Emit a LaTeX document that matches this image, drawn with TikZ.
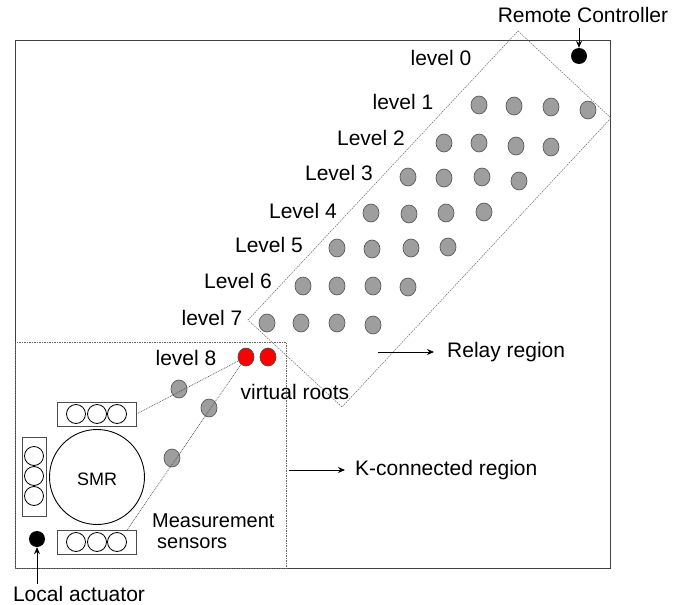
\documentclass[tikz,border=0pt]{standalone}
\usepackage{fontspec}
\setmainfont{Liberation Sans}
\usetikzlibrary{shapes.geometric,arrows.meta,calc}
\begin{document}
\begin{tikzpicture}[x=1pt,y=-1pt,
  every node/.style={font=\fontsize{21}{24}\selectfont, inner sep=0pt},
  relay/.style={ellipse, draw=black!65, fill=black!38, line width=0.7pt, minimum width=16pt, minimum height=18pt},
  vroot/.style={ellipse, draw=black!70, fill=red, line width=0.7pt, minimum width=16pt, minimum height=18pt},
  ctrl/.style={circle, fill=black, minimum size=16pt},
  sensor/.style={circle, draw=black, line width=0.8pt, minimum size=19pt},
  sbox/.style={rectangle, draw=black!70, line width=0.8pt},
  region/.style={draw=black!60, line width=0.5pt, dash pattern=on 1.5pt off 1pt},
  link/.style={draw=black!70, line width=0.7pt, dash pattern=on 0.8pt off 1pt},
  pointer/.style={draw=black, line width=0.8pt, -{Stealth[length=7pt,width=6pt]}}
]
\useasboundingbox (0,0) rectangle (689,605);

% plant boundary
\node[sbox, draw=black!75, line width=0.9pt, minimum width=595pt, minimum height=528pt, anchor=north west] (plant) at (15,40) {};

% relay region (rotated strip)
\draw[region] (518,31) -- (611,118) -- (342,407) -- (248,320) -- cycle;

% K-connected region
\node[region, rectangle, minimum width=271pt, minimum height=226pt, anchor=north west] (kreg) at (15,342) {};

% remote controller
\node[ctrl] (rc) at (579,56) {};
\node (rclabel) at (583,15) {Remote Controller};
\coordinate (rctail) at (579,28);
\draw[pointer] (rctail) -- (rc);

% level labels
\node (l0) at (441,58) {level 0};
\node (l1) at (403,102) {level 1};
\node (l2) at (371,138) {Level 2};
\node (l3) at (339,173) {Level 3};
\node (l4) at (303,211) {Level 4};
\node (l5) at (269,245) {Level 5};
\node (l6) at (238,281) {Level 6};
\node (l7) at (212,318) {level 7};
\node (l8) at (186,358) {level 8};

% relay nodes, one row per level
\node[relay] (a1) at (479,105) {};
\node[relay] (a2) at (514,106) {};
\node[relay] (a3) at (551,107) {};
\node[relay] (a4) at (588,110) {};
\node[relay] (b1) at (444,143) {};
\node[relay] (b2) at (479,143) {};
\node[relay] (b3) at (516,146) {};
\node[relay] (b4) at (551,147) {};
\node[relay] (c1) at (408,177) {};
\node[relay] (c2) at (444,178) {};
\node[relay] (c3) at (482,177) {};
\node[relay] (c4) at (519,181) {};
\node[relay] (d1) at (371,213) {};
\node[relay] (d2) at (409,214) {};
\node[relay] (d3) at (446,213) {};
\node[relay] (d4) at (484,212) {};
\node[relay] (e1) at (337,248) {};
\node[relay] (e2) at (372,249) {};
\node[relay] (e3) at (411,248) {};
\node[relay] (e4) at (448,247) {};
\node[relay] (f1) at (303,286) {};
\node[relay] (f2) at (337,286) {};
\node[relay] (f3) at (373,286) {};
\node[relay] (f4) at (408,287) {};
\node[relay] (g1) at (267,323) {};
\node[relay] (g2) at (301,323) {};
\node[relay] (g3) at (337,323) {};
\node[relay] (g4) at (373,325) {};

% relay region label
\coordinate (rrtail) at (378,352);
\coordinate (rrhead) at (434,352);
\draw[pointer] (rrtail) -- (rrhead);
\node[anchor=west] (rrlabel) at (447,352) {Relay region};

% K-connected region label
\coordinate (kctail) at (289,470);
\coordinate (kchead) at (345,470);
\draw[pointer] (kctail) -- (kchead);
\node[anchor=west] (kclabel) at (355,470) {K-connected region};

% virtual roots
\node[vroot] (r1) at (246,357) {};
\node[vroot] (r2) at (268,357) {};
\node (vrlabel) at (295,392) {virtual roots};

% reactor and its sensor banks
\node[circle, draw=black, line width=0.9pt, minimum size=95pt] (smr) at (97,477) {};
\node[font=\fontsize{18}{20}\selectfont] (smrlabel) at (97,479) {SMR};

\node[sbox, minimum width=79pt, minimum height=24pt] (tbox) at (96.5,414) {};
\node[sensor] (t1) at (76,414) {};
\node[sensor] (t2) at (97,414) {};
\node[sensor] (t3) at (117,414) {};

\node[sbox, minimum width=79pt, minimum height=24pt] (bbox) at (96.5,542) {};
\node[sensor] (u1) at (76,542) {};
\node[sensor] (u2) at (97,542) {};
\node[sensor] (u3) at (117,542) {};

\node[sbox, minimum width=24pt, minimum height=79pt] (lbox) at (34,476.5) {};
\node[sensor] (v1) at (34,456) {};
\node[sensor] (v2) at (34,476) {};
\node[sensor] (v3) at (34,496) {};

\node[font=\fontsize{20}{23}\selectfont, anchor=base west] (mslabel1) at (152,527) {Measurement};
\node[font=\fontsize{20}{23}\selectfont, anchor=base west] (mslabel2) at (157,548) {sensors};

% multi-hop paths from the sensor banks to the virtual root
\node[relay] (h1) at (179,389) {};
\node[relay] (h2) at (209,408) {};
\node[relay] (h3) at (172,458) {};
\coordinate (bboxout) at (127,530);
\draw[link] (tbox.east) -- (r1);
\draw[link] (bboxout) -- (r1);

% local actuator
\node[ctrl] (la) at (37,539) {};
\coordinate (latail) at (37,584);
\draw[pointer] (latail) -- (la);
\node[anchor=base] (lalabel) at (79,601) {Local actuator};
\end{tikzpicture}
\end{document}
